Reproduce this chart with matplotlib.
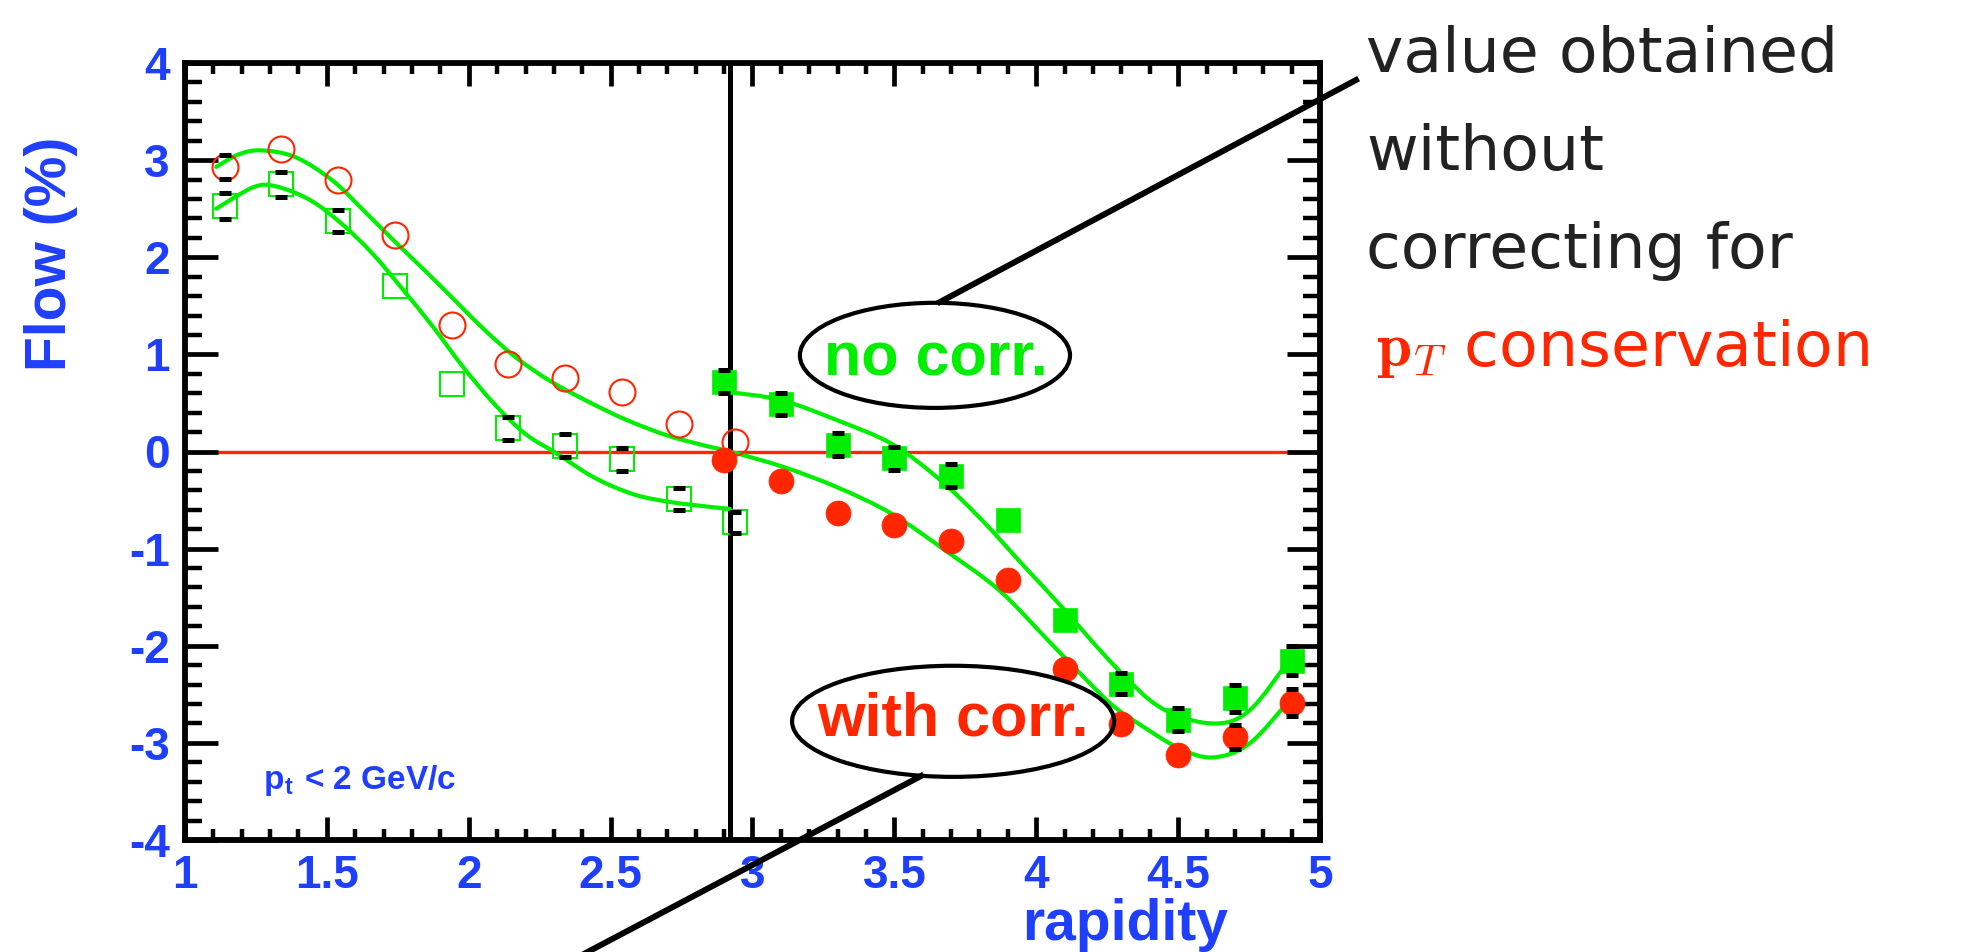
"""
    Flow vs rapidity, with and without p_T conservation correction
"""
import matplotlib
matplotlib.use("Agg")
import matplotlib.pyplot as plt
from matplotlib.patches import Ellipse, PathPatch
from matplotlib.path import Path
from matplotlib.lines import Line2D
from matplotlib.ticker import MultipleLocator, FuncFormatter
import numpy as np

# Data
x_open = [1.14, 1.34, 1.54, 1.74, 1.94, 2.14, 2.34, 2.54, 2.74, 2.94]
sq_open = [2.53, 2.75, 2.37, 1.70, 0.69, 0.24, 0.06, -0.08, -0.49, -0.73]
sq_open_err = [0.135, 0.125, 0.115, 0, 0, 0.117, 0.117, 0.118, 0.115, 0.11]
ci_open = [2.93, 3.11, 2.80, 2.23, 1.30, 0.90, 0.76, 0.61, 0.28, 0.10]
ci_open_err = [0.12, 0, 0, 0, 0, 0, 0, 0, 0, 0]

x_full = [2.90, 3.10, 3.30, 3.50, 3.70, 3.90, 4.10, 4.30, 4.50, 4.70, 4.90]
sq_full = [0.72, 0.49, 0.07, -0.07, -0.25, -0.71, -1.74, -2.39, -2.76, -2.54, -2.155]
sq_full_err = [0.117, 0.11, 0.117, 0.117, 0.117, 0, 0, 0.11, 0.12, 0.14, 0.15]
ci_full = [-0.09, -0.30, -0.63, -0.76, -0.925, -1.32, -2.24, -2.81, -3.12, -2.94, -2.585]
ci_full_err = [0, 0, 0, 0, 0, 0, 0, 0, 0, 0.12, 0.135]

# fit curves
fit_corr_x = [1.11, 1.19, 1.27, 1.39, 1.52, 1.63, 1.74, 1.85, 1.96, 2.06, 2.17,
              2.29, 2.43, 2.56, 2.70, 2.83, 2.92, 3.11, 3.30, 3.49, 3.68, 3.87,
              4.05, 4.21, 4.28, 4.37, 4.50, 4.62, 4.75, 4.89]
fit_corr_y = [2.93, 3.06, 3.10, 3.03, 2.79, 2.48, 2.16, 1.85, 1.53, 1.24, 0.96,
              0.72, 0.50, 0.32, 0.165, 0.062, 0.0, -0.16, -0.37, -0.64, -1.02, -1.43,
              -1.97, -2.45, -2.64, -2.82, -3.05, -3.15, -3.01, -2.57]
fit_nc_left_x = [1.11, 1.24, 1.32, 1.44, 1.55, 1.66, 1.77, 1.875, 1.98, 2.09, 2.20,
                 2.31, 2.44, 2.58, 2.71, 2.85, 2.92]
fit_nc_left_y = [2.50, 2.72, 2.73, 2.59, 2.35, 2.04, 1.66, 1.28, 0.87, 0.49, 0.18,
                 -0.02, -0.265, -0.44, -0.52, -0.57, -0.59]
fit_nc_right_x = [2.92, 3.10, 3.30, 3.49, 3.65, 3.80, 3.96, 4.09, 4.28, 4.44, 4.62, 4.75, 4.89]
fit_nc_right_y = [0.61, 0.53, 0.32, 0.08, -0.265, -0.68, -1.19, -1.60, -2.22, -2.64, -2.80, -2.67, -2.155]

x_ticks = [1, 1.5, 2, 2.5, 3, 3.5, 4, 4.5, 5]
y_ticks = [-4, -3, -2, -1, 0, 1, 2, 3, 4]
y_cm = 2.92

BLUE = "#1f3fff"
GREEN = "#00ee00"
RED = "#ff2600"


def smooth_path(xs, ys):
    # Catmull-Rom through the read points, drawn as cubic Bezier segments
    p = np.column_stack([xs, ys]).astype(float)
    ext = np.vstack([p[0], p, p[-1]])
    verts = [p[0]]
    codes = [Path.MOVETO]
    for i in range(1, len(ext) - 2):
        c1 = ext[i] + (ext[i + 1] - ext[i - 1]) / 6.0
        c2 = ext[i + 1] - (ext[i + 2] - ext[i]) / 6.0
        verts += [c1, c2, ext[i + 1]]
        codes += [Path.CURVE4] * 3
    return Path(verts, codes)


plt.rcParams["font.family"] = ["Liberation Sans", "DejaVu Sans"]
plt.rcParams["mathtext.fontset"] = "cm"
plt.rcParams["axes.unicode_minus"] = False

W, H = 1966, 952
fig = plt.figure(figsize=(W / 100, H / 100), dpi=100)
ax = fig.add_axes([185 / W, 1 - 840 / H, (1320 - 185) / W, (840 - 63) / H])
ax.set_axisbelow(False)

# zero line and mirror line
ax.plot([1, 5], [0, 0], color=RED, lw=2.4, zorder=1)
ax.axvline(y_cm, color="black", lw=3.6, zorder=1)

# fits
for fx, fy in [(fit_corr_x, fit_corr_y), (fit_nc_left_x, fit_nc_left_y),
               (fit_nc_right_x, fit_nc_right_y)]:
    ax.add_patch(PathPatch(smooth_path(fx, fy), facecolor="none", edgecolor=GREEN,
                           lw=3.0, capstyle="round", zorder=2))

# markers
ax.plot(x_open, ci_open, "o", ms=18.7, mfc="none", mec=RED, mew=1.5, zorder=3)
ax.plot(x_open, sq_open, "s", ms=17.5, mfc="none", mec=GREEN, mew=1.5, zorder=3)
ax.plot(x_full, ci_full, "o", ms=18, mfc=RED, mec=RED, mew=0.5, zorder=3)
ax.plot(x_full, sq_full, "s", ms=17.5, mfc=GREEN, mec=GREEN, mew=0.5, zorder=3)

# error bar caps (only where they stick out of the marker)
for xs, ys, es in [(x_open, sq_open, sq_open_err), (x_open, ci_open, ci_open_err),
                   (x_full, sq_full, sq_full_err), (x_full, ci_full, ci_full_err)]:
    xs, ys, es = np.array(xs), np.array(ys), np.array(es)
    m = es > 0
    ax.errorbar(xs[m], ys[m], yerr=es[m], fmt="none", ecolor="black",
                elinewidth=0, capsize=4.3, capthick=3.6, zorder=4)

ax.set_xlim(1, 5)
ax.set_ylim(-4, 4)
ax.set_xticks(x_ticks)
ax.set_yticks(y_ticks)
ax.xaxis.set_minor_locator(MultipleLocator(0.1))
ax.yaxis.set_minor_locator(MultipleLocator(0.2))
ax.xaxis.set_major_formatter(FuncFormatter(lambda v, p: "%g" % v))
ax.yaxis.set_major_formatter(FuncFormatter(lambda v, p: "%g" % v))

ax.tick_params(axis="both", which="both", direction="in", top=True, right=True,
               color="black")
ax.tick_params(axis="x", which="major", length=16.5, width=3.4, pad=10)
ax.tick_params(axis="x", which="minor", length=8, width=3.2)
ax.tick_params(axis="y", which="major", length=24, width=3.4, pad=11)
ax.tick_params(axis="y", which="minor", length=12, width=3.2)
for lab in ax.get_xticklabels() + ax.get_yticklabels():
    lab.set_fontsize(33)
    lab.set_fontweight("bold")
    lab.set_color(BLUE)
for sp in ax.spines.values():
    sp.set_linewidth(4.2)

ax.text(1.275, -3.47, r"p$_{\mathregular{t}}$ < 2 GeV/c", color=BLUE, fontsize=24,
        fontweight="bold", ha="left", va="baseline")

# ellipses with labels
ax.add_patch(Ellipse((3.643, 0.99), 0.952, 1.082, facecolor="none",
                     edgecolor="black", lw=3.0, zorder=5))
ax.add_patch(Ellipse((3.707, -2.778), 1.135, 1.144, facecolor="none",
                     edgecolor="black", lw=3.0, zorder=5))
ax.text(3.645, (451 - 375) / 97, "no corr.", color=GREEN, fontsize=44,
        fontweight="bold", ha="center", va="baseline", zorder=6)
ax.text(3.705, (451 - 735) / 97, "with corr.", color=RED, fontsize=44,
        fontweight="bold", ha="center", va="baseline", zorder=6)

# axis titles
fig.text(51 / W, 1 - 254 / H, "Flow (%)", rotation=90, color=BLUE, fontsize=41,
         fontweight="bold", ha="center", va="center")
fig.text(1228 / W, 1 - 940 / H, "rapidity", color=BLUE, fontsize=41,
         fontweight="bold", ha="right", va="baseline")

# callout lines
fig.add_artist(Line2D([1356 / W, 940 / W], [1 - 80 / H, 1 - 302 / H],
                      transform=fig.transFigure, color="black", lw=4.3))
fig.add_artist(Line2D([921 / W, 580 / W], [1 - 776 / H, 1 - 956 / H],
                      transform=fig.transFigure, color="black", lw=4.3))

# side note
note_kw = dict(fontsize=45.5, color="#222222", family=["DejaVu Sans"], ha="left",
               va="baseline")
fig.text(1366 / W, 1 - 72 / H, "value obtained", **note_kw)
fig.text(1366 / W, 1 - 170 / H, "without", **note_kw)
fig.text(1366 / W, 1 - 268 / H, "correcting for", **note_kw)
note_kw["color"] = RED
fig.text(1376 / W, 1 - 366 / H, r"$\mathbf{p}_T$ conservation", **note_kw)

fig.savefig("out.png", dpi=100)
plt.close(fig)
